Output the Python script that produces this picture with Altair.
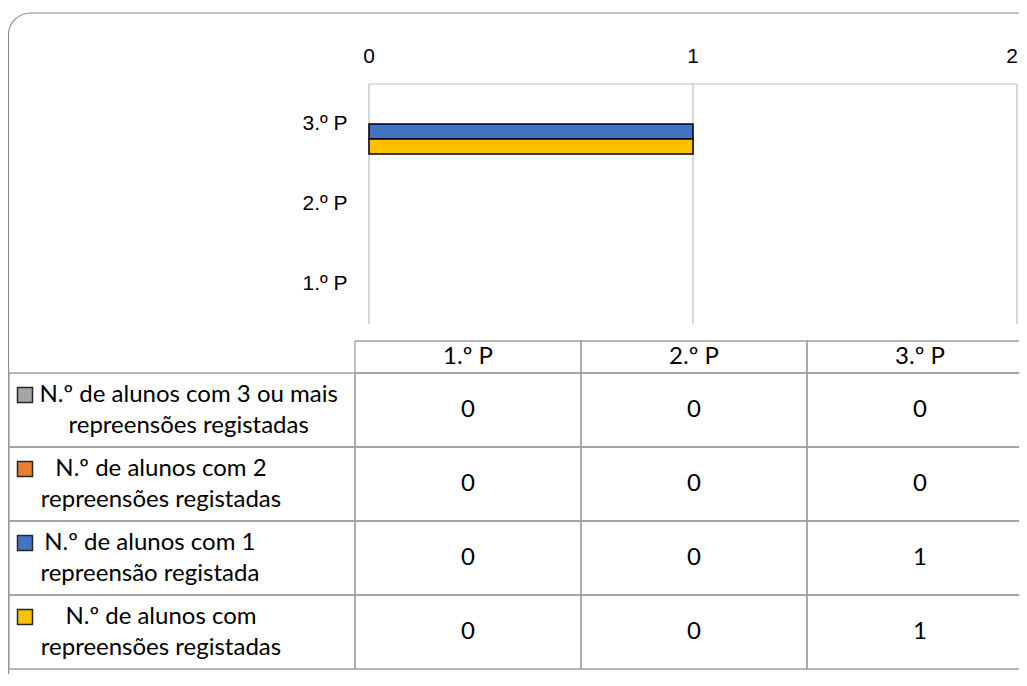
import altair as alt
import pandas as pd

# ---- data ----
periods = ["1.º P", "2.º P", "3.º P"]
periods_top_down = ["3.º P", "2.º P", "1.º P"]
x_ticks = [0, 1, 2]

series_lines = [
    ["N.º de alunos com 3 ou mais", "repreensões registadas"],
    ["N.º de alunos com 2", "repreensões registadas"],
    ["N.º de alunos com 1", "repreensão registada"],
    ["N.º de alunos com", "repreensões registadas"],
]
series_names = [" ".join(l) for l in series_lines]
series_colors = ["#A5A5A5", "#ED7D31", "#4472C4", "#FFC000"]

values_3_ou_mais = [0, 0, 0]
values_2 = [0, 0, 0]
values_1 = [0, 0, 1]
values_com = [0, 0, 1]
all_values = [values_3_ou_mais, values_2, values_1, values_com]

rows = []
for s, vals in zip(series_names, all_values):
    for p, v in zip(periods, vals):
        rows.append({"period": p, "series": s, "value": v})
df = pd.DataFrame(rows)

# label block: lines centred within a block that starts right of the legend key
FONT_T = "Lato"
FS_T = 24
char_w = 0.462 * FS_T
lab = pd.DataFrame({
    "series": series_names,
    "label": ["\n".join(l) for l in series_lines],
})
lab["cx"] = [-330 + max(len(x) for x in l) * char_w / 2 for l in series_lines]

hdr = pd.DataFrame({"period": periods})
ticks_df = pd.DataFrame({"t": x_ticks})
one = pd.DataFrame({"a": [0]})

W, H = 648, 240
GRID = "#bfbfbf"
TGRID = "#a0a0a0"
x_max = max(x_ticks)

color_scale = alt.Scale(domain=series_names, range=series_colors)
x_scale = alt.Scale(domain=[0, 2], nice=False, zero=True)
cols_scale = alt.Scale(type="band", domain=periods, range=[-14, 664], paddingInner=0, paddingOuter=0)
rows_scale = alt.Scale(type="band", domain=series_names, range=[289, 585], paddingInner=0, paddingOuter=0)

# ---- chart frame ----
frame = alt.Chart(one).mark_rect(fillOpacity=0, stroke="#8c8c8c", strokeWidth=1.2, cornerRadius=22).encode(
    x=alt.value(-360.5), x2=alt.value(676), y=alt.value(-71), y2=alt.value(610)
)

# ---- value-axis gridlines and labels (from the tick list through the value scale) ----
grid = alt.Chart(ticks_df).mark_rule(color=GRID, strokeWidth=1.2).encode(
    x=alt.X("t:Q", scale=x_scale, axis=None),
    y=alt.value(0), y2=alt.value(H),
)
top_line = alt.Chart(one).mark_rule(color=GRID, strokeWidth=1.2).encode(
    x=alt.value(0), x2=alt.value(W), y=alt.value(0)
)
tick_labels = alt.Chart(ticks_df).transform_filter(f"datum.t < {x_max}").mark_text(
    font="Liberation Sans", fontSize=21, color="#000000", baseline="alphabetic"
).encode(
    x=alt.X("t:Q", scale=x_scale, axis=None),
    y=alt.value(-21),
    text=alt.Text("t:Q", format="d"),
)
tick_label_last = alt.Chart(ticks_df).transform_filter(f"datum.t == {x_max}").mark_text(
    font="Liberation Sans", fontSize=21, color="#000000", baseline="alphabetic", align="right", dx=1
).encode(
    x=alt.X("t:Q", scale=x_scale, axis=None),
    y=alt.value(-21),
    text=alt.Text("t:Q", format="d"),
)

# ---- bars ----
bars = alt.Chart(df).transform_filter("datum.value > 0").mark_bar(stroke="#000000", strokeWidth=1.5).encode(
    x=alt.X("value:Q", scale=x_scale, axis=None),
    y=alt.Y("period:N", sort=periods_top_down,
            scale=alt.Scale(domain=periods_top_down, paddingInner=0.25, paddingOuter=0.125),
            axis=alt.Axis(title=None, ticks=False, domain=False, grid=False, labelPadding=22,
                          labelFont="Liberation Sans", labelFontSize=21, labelColor="#000000")),
    yOffset=alt.YOffset("series:N", sort=series_names,
                        scale=alt.Scale(domain=series_names, paddingInner=0, paddingOuter=0)),
    color=alt.Color("series:N", scale=color_scale, legend=None),
)

# ---- data table ----
label_cells = alt.Chart(lab).mark_rect(fillOpacity=0, stroke=TGRID, strokeWidth=1.3).encode(
    x=alt.value(-360), x2=alt.value(-14),
    y=alt.Y("series:N", scale=rows_scale, axis=None),
)
value_cells = alt.Chart(df).mark_rect(fillOpacity=0, stroke=TGRID, strokeWidth=1.3).encode(
    x=alt.X("period:N", scale=cols_scale, axis=None),
    y=alt.Y("series:N", scale=rows_scale, axis=None),
)
header_cells = alt.Chart(hdr).mark_rect(fillOpacity=0, stroke=TGRID, strokeWidth=1.3).encode(
    x=alt.X("period:N", scale=cols_scale, axis=None),
    y=alt.value(257), y2=alt.value(289),
)
header_text = alt.Chart(hdr).mark_text(font=FONT_T, fontSize=FS_T, color="#000000", baseline="middle").encode(
    x=alt.X("period:N", scale=cols_scale, axis=None),
    y=alt.value(273),
    text="period:N",
)
value_text = alt.Chart(df).mark_text(font=FONT_T, fontSize=FS_T, color="#000000", baseline="middle").encode(
    x=alt.X("period:N", scale=cols_scale, axis=None),
    y=alt.Y("series:N", scale=rows_scale, axis=None),
    text="value:Q",
)
label_text = alt.Chart(lab).mark_text(font=FONT_T, fontSize=FS_T, color="#000000", align="center",
                                      baseline="middle", lineBreak="\n", lineHeight=31, dy=-15).encode(
    x=alt.X("cx:Q", scale=None, axis=None),
    y=alt.Y("series:N", scale=rows_scale, axis=None),
    text="label:N",
)
keys = alt.Chart(lab).mark_square(size=225, filled=True, opacity=1, stroke="#262626", strokeWidth=1.5,
                                  yOffset=-15).encode(
    x=alt.value(-344),
    y=alt.Y("series:N", scale=rows_scale, axis=None),
    color=alt.Color("series:N", scale=color_scale, legend=None),
)

chart = alt.layer(
    frame, grid, top_line, tick_labels, tick_label_last, bars,
    label_cells, value_cells, header_cells, header_text, value_text, label_text, keys
).resolve_scale(
    x="independent", y="independent"
).properties(
    width=W, height=H,
    autosize=alt.AutoSizeParams(type="none"),
    padding={"left": 361, "top": 76, "right": 2, "bottom": 350},
    background="white",
).configure_view(strokeWidth=0)

chart.save("out.html", embed_options={"renderer": "svg", "actions": False})
